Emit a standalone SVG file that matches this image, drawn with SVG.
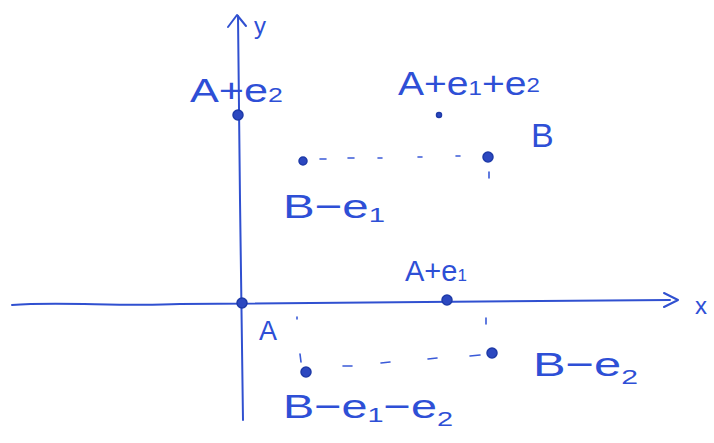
<svg xmlns="http://www.w3.org/2000/svg" width="714" height="443" viewBox="0 0 714 443">
<defs>
<style>
.ax{fill:none;stroke:#3050d0;stroke-width:2;stroke-linecap:round;stroke-linejoin:round}
.dash{fill:none;stroke:#3a5ad8;stroke-width:1.6;stroke-linecap:round}
.dot{fill:#2c48c0;stroke:#1e3aa8;stroke-width:1.5}
.lbl{font-family:"Liberation Sans",Arial,sans-serif;font-size:34px;fill:#2e4fd6}
.sub{font-size:21px}
</style>
</defs>
<rect width="714" height="443" fill="#ffffff"/>
<g id="connectors">
<path class="ax" d="M12,305 C60,301 120,307 180,304 L670,300"/>
<path class="ax" d="M664,293 L678,300 L664,307"/>
<path class="ax" d="M238,16 L240,200 L243,420"/>
<path class="ax" d="M228,27 L237,15 L246,26"/>
<path class="dash" d="M320,159 L326,159 M348,158 L354,158 M378,158 L382,158 M418,157 L422,157 M456,156 L460,156"/>
<path class="dash" d="M489,172 L489,178 M486,318 L486,324 M297,317 L297,319 M300,354 L301,362"/>
<path class="dash" d="M343,366 L352,366 M381,363 L390,362 M428,359 L437,358 M470,356 L480,355"/>
</g>
<g id="A"><circle class="dot" cx="242" cy="303" r="5"/><text class="lbl" x="259" y="340" style="font-size:27px">A</text></g>
<g id="Ae1"><circle class="dot" cx="447" cy="300" r="5"/><text class="lbl" x="405" y="281" style="font-size:29px">A+e<tspan style="font-size:17px">1</tspan></text></g>
<g id="Ae2"><circle class="dot" cx="238" cy="115" r="5"/><text class="lbl" x="190" y="102" textLength="93" lengthAdjust="spacingAndGlyphs">A+e<tspan class="sub">2</tspan></text></g>
<g id="Ae1e2"><circle class="dot" cx="439" cy="115" r="2.5"/><text class="lbl" x="398" y="95" textLength="142" lengthAdjust="spacingAndGlyphs">A+e<tspan class="sub">1</tspan><tspan>+e</tspan><tspan class="sub" dy="-3">2</tspan></text></g>
<g id="B"><circle class="dot" cx="488" cy="157" r="5"/><text class="lbl" x="531" y="147">B</text></g>
<g id="Be1"><circle class="dot" cx="303" cy="161" r="4"/><text class="lbl" x="283" y="218" textLength="102" lengthAdjust="spacingAndGlyphs">B−e<tspan class="sub" dy="4">1</tspan></text></g>
<g id="Be2"><circle class="dot" cx="492" cy="353" r="5"/><text class="lbl" x="533" y="376" textLength="105" lengthAdjust="spacingAndGlyphs">B−e<tspan class="sub" dy="8">2</tspan></text></g>
<g id="Be1e2"><circle class="dot" cx="306" cy="372" r="5"/><text class="lbl" x="283" y="418" textLength="170" lengthAdjust="spacingAndGlyphs">B−e<tspan class="sub" dy="4">1</tspan><tspan dy="-4">−e</tspan><tspan class="sub" dy="8">2</tspan></text></g>
<g id="axis-labels"><text class="lbl" x="254" y="34" style="font-size:24px">y</text><text class="lbl" x="695" y="314" style="font-size:24px">x</text></g>
</svg>
